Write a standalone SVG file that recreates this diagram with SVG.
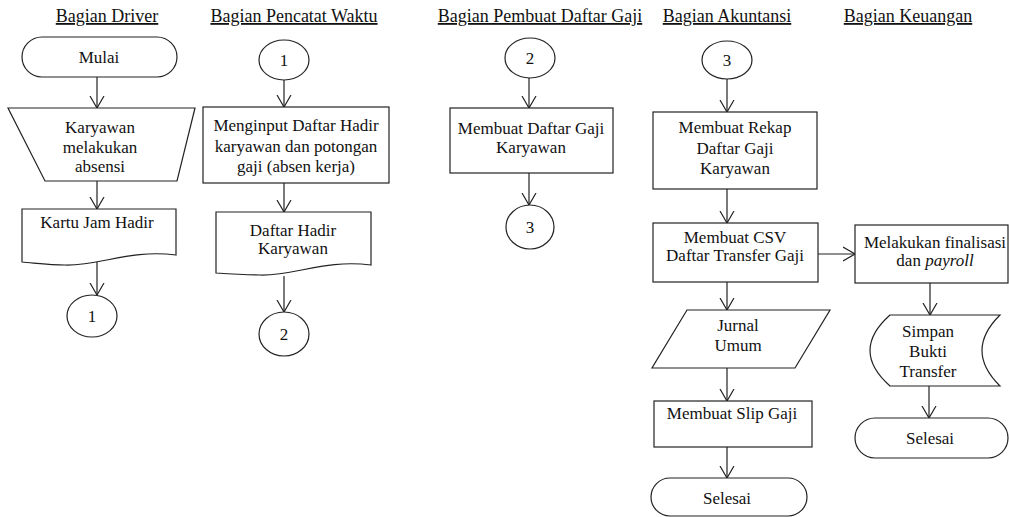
<svg xmlns="http://www.w3.org/2000/svg" width="1009" height="517" viewBox="0 0 1009 517">
<style>
  text { font-family: "Liberation Serif", "Times New Roman", serif; fill: #111; }
  .t { font-size: 18px; text-anchor: middle; text-decoration: underline; }
  .b { font-size: 17px; text-anchor: middle; }
  .s { fill: #fff; stroke: #222; stroke-width: 1.2; }
  .c { fill: none; stroke: #222; stroke-width: 1.2; marker-end: url(#arr); }
</style>
<defs>
  <marker id="arr" markerUnits="userSpaceOnUse" viewBox="0 0 12 16" refX="12" refY="8" markerWidth="12" markerHeight="16" orient="auto">
    <path d="M0,1 L12,8 L0,15" fill="none" stroke="#222" stroke-width="1.2"/>
  </marker>
</defs>
<rect width="1009" height="517" fill="#fff"/>

<g id="titles">
  <text class="t" x="107" y="22">Bagian Driver</text>
  <text class="t" x="294" y="22">Bagian Pencatat Waktu</text>
  <text class="t" x="540" y="22">Bagian Pembuat Daftar Gaji</text>
  <text class="t" x="727" y="22">Bagian Akuntansi</text>
  <text class="t" x="908" y="22">Bagian Keuangan</text>
</g>

<g id="connectors">
  <line class="c" x1="97" y1="77" x2="97" y2="108"/>
  <line class="c" x1="97" y1="181" x2="97" y2="209"/>
  <line class="c" x1="97" y1="262" x2="97" y2="295"/>
  <line class="c" x1="284" y1="80" x2="284" y2="107"/>
  <line class="c" x1="284" y1="183" x2="284" y2="212"/>
  <line class="c" x1="284" y1="276" x2="284" y2="312"/>
  <line class="c" x1="529" y1="78" x2="529" y2="108"/>
  <line class="c" x1="529" y1="173" x2="529" y2="205"/>
  <line class="c" x1="727" y1="79" x2="727" y2="112"/>
  <line class="c" x1="727" y1="189" x2="727" y2="223"/>
  <line class="c" x1="818" y1="254" x2="855" y2="254"/>
  <line class="c" x1="727" y1="282" x2="727" y2="310"/>
  <line class="c" x1="727" y1="368" x2="727" y2="401"/>
  <line class="c" x1="727" y1="447" x2="727" y2="478"/>
  <line class="c" x1="930" y1="283" x2="930" y2="315"/>
  <line class="c" x1="929" y1="386" x2="929" y2="418"/>
</g>

<g id="mulai">
  <rect class="s" x="22" y="37" width="155" height="40" rx="20"/>
  <text class="b" x="99" y="63">Mulai</text>
</g>
<g id="karyawan-absensi">
  <polygon class="s" points="8,108 195,108 177,181 45,181"/>
  <text class="b" x="100" y="133">Karyawan</text>
  <text class="b" x="100" y="153">melakukan</text>
  <text class="b" x="100" y="172">absensi</text>
</g>
<g id="kartu-jam-hadir">
  <path class="s" d="M22,209 H176 V255 C130,249 100,266 65,265 C50,265 35,263 22,262 Z"/>
  <text class="b" x="97" y="228">Kartu Jam Hadir</text>
</g>
<g id="conn-1a">
  <ellipse class="s" cx="92" cy="316" rx="25" ry="21"/>
  <text class="b" x="92" y="322">1</text>
</g>

<g id="conn-1b">
  <ellipse class="s" cx="284" cy="60" rx="25" ry="20"/>
  <text class="b" x="284" y="66">1</text>
</g>
<g id="input-daftar-hadir">
  <rect class="s" x="203" y="107" width="186" height="76"/>
  <text class="b" x="296" y="131">Menginput Daftar Hadir</text>
  <text class="b" x="296" y="152">karyawan dan potongan</text>
  <text class="b" x="296" y="172">gaji (absen kerja)</text>
</g>
<g id="daftar-hadir">
  <path class="s" d="M216,212 H371 V265 C325,259 295,276 260,275 C245,275 230,274 216,273 Z"/>
  <text class="b" x="293" y="236">Daftar Hadir</text>
  <text class="b" x="293" y="254">Karyawan</text>
</g>
<g id="conn-2a">
  <ellipse class="s" cx="284" cy="334" rx="25" ry="22"/>
  <text class="b" x="284" y="340">2</text>
</g>

<g id="conn-2b">
  <ellipse class="s" cx="530" cy="58" rx="25" ry="20"/>
  <text class="b" x="530" y="64">2</text>
</g>
<g id="daftar-gaji">
  <rect class="s" x="450" y="108" width="163" height="65"/>
  <text class="b" x="531" y="134">Membuat Daftar Gaji</text>
  <text class="b" x="531" y="153">Karyawan</text>
</g>
<g id="conn-3a">
  <ellipse class="s" cx="530" cy="227" rx="24" ry="22"/>
  <text class="b" x="530" y="233">3</text>
</g>

<g id="conn-3b">
  <ellipse class="s" cx="727" cy="60" rx="25" ry="19"/>
  <text class="b" x="727" y="66">3</text>
</g>
<g id="rekap">
  <rect class="s" x="653" y="112" width="164" height="77"/>
  <text class="b" x="735" y="133">Membuat Rekap</text>
  <text class="b" x="735" y="154">Daftar Gaji</text>
  <text class="b" x="735" y="174">Karyawan</text>
</g>
<g id="csv">
  <rect class="s" x="653" y="223" width="165" height="59"/>
  <text class="b" x="735" y="243">Membuat CSV</text>
  <text class="b" x="735" y="261">Daftar Transfer Gaji</text>
</g>
<g id="jurnal">
  <polygon class="s" points="687,310 830,310 795,368 652,368"/>
  <text class="b" x="738" y="331">Jurnal</text>
  <text class="b" x="738" y="351">Umum</text>
</g>
<g id="slip">
  <rect class="s" x="654" y="401" width="158" height="46"/>
  <text class="b" x="732" y="419">Membuat Slip Gaji</text>
</g>
<g id="selesai-1">
  <rect class="s" x="651" y="478" width="156" height="38" rx="19"/>
  <text class="b" x="727" y="504">Selesai</text>
</g>

<g id="finalisasi">
  <rect class="s" x="855" y="225" width="153" height="58"/>
  <text class="b" x="935" y="248">Melakukan finalisasi</text>
  <text class="b" x="935" y="266">dan <tspan font-style="italic">payroll</tspan></text>
</g>
<g id="simpan">
  <path class="s" d="M890,315 L1000,315 Q964,350.5 1000,386 L890,386 Q850,350.5 890,315 Z"/>
  <text class="b" x="928" y="337">Simpan</text>
  <text class="b" x="928" y="357">Bukti</text>
  <text class="b" x="928" y="377">Transfer</text>
</g>
<g id="selesai-2">
  <rect class="s" x="855" y="418" width="153" height="40" rx="20"/>
  <text class="b" x="930" y="444">Selesai</text>
</g>
</svg>
